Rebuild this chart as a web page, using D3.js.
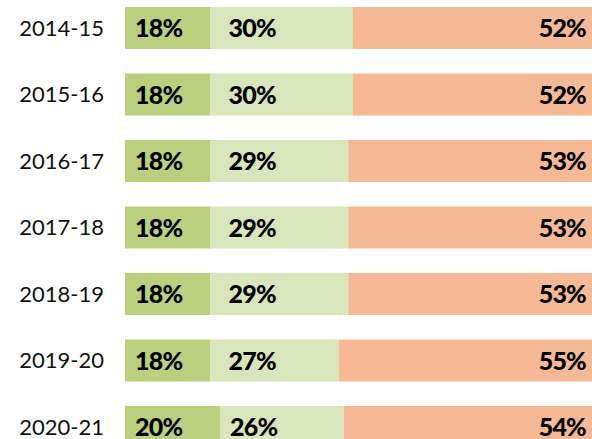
<!DOCTYPE html>
<html>
<head>
<meta charset="utf-8">
<script src="https://cdn.jsdelivr.net/npm/d3@7"></script>
<style>
  body { margin: 0; background: #fff; }
  svg { display: block; }
</style>
</head>
<body>
<div id="chart"></div>
<script>
const years = ["2014-15", "2015-16", "2016-17", "2017-18", "2018-19", "2019-20", "2020-21"];
const first = [18, 18, 18, 18, 18, 18, 20];
const second = [30, 30, 29, 29, 29, 27, 26];
const third = [52, 52, 53, 53, 53, 55, 54];
const colors = ["#bbd07e", "#d9e5bb", "#f5b996"];

const width = 592, height = 439;
// the bars run a little past the right edge of the picture
const margin = { top: 7, right: -8, bottom: 0, left: 125 };
const step = 66.5, barH = 42;

const data = years.map((y, i) => ({ year: y, a: first[i], b: second[i], c: third[i] }));

const svg = d3.select("#chart").append("svg")
  .attr("width", width)
  .attr("height", height);

const x = d3.scaleLinear()
  .domain([0, 100])
  .range([margin.left, width - margin.right]);

// rows: last bar runs past the bottom edge, like the reference
const y = d3.scaleBand()
  .domain(years)
  .range([margin.top, margin.top + step * (years.length - 1) + barH])
  .paddingInner((step - barH) / step)
  .paddingOuter(0);

const stack = d3.stack().keys(["a", "b", "c"]);
const series = stack(data);

const rows = svg.selectAll(".layer")
  .data(series)
  .join("g")
  .attr("class", "layer")
  .attr("fill", (d, i) => colors[i]);

rows.selectAll("rect")
  .data(d => d)
  .join("rect")
  .attr("x", d => x(d[0]))
  .attr("y", d => y(d.data.year))
  .attr("width", d => x(d[1]) - x(d[0]))
  .attr("height", y.bandwidth());

// year labels
svg.selectAll(".year")
  .data(data)
  .join("text")
  .attr("class", "year")
  .attr("x", margin.left - 21)
  .attr("y", d => y(d.year) + y.bandwidth() / 2)
  .attr("dy", "0.36em")
  .attr("text-anchor", "end")
  .style("font-family", "Lato, sans-serif")
  .style("font-size", "22px")
  .style("fill", "#111")
  .text(d => d.year);

const valStyle = sel => sel
  .style("font-family", "Lato, sans-serif")
  .style("font-weight", "900")
  .style("font-size", "25px")
  .style("letter-spacing", "-0.8px")
  .style("fill", "#000");

// first segment labels
svg.selectAll(".lbl-a")
  .data(series[0])
  .join("text")
  .attr("class", "lbl-a")
  .attr("x", d => x(d[0]) + 10)
  .attr("y", d => y(d.data.year) + y.bandwidth() / 2)
  .attr("dy", "0.36em")
  .call(valStyle)
  .text(d => d.data.a + "%");

// second segment labels
svg.selectAll(".lbl-b")
  .data(series[1])
  .join("text")
  .attr("class", "lbl-b")
  .attr("x", d => Math.max(x(d[0]) + 10, x(21.8)))
  .attr("y", d => y(d.data.year) + y.bandwidth() / 2)
  .attr("dy", "0.36em")
  .call(valStyle)
  .text(d => d.data.b + "%");

// third segment labels
svg.selectAll(".lbl-c")
  .data(series[2])
  .join("text")
  .attr("class", "lbl-c")
  .attr("x", d => x(d[1]) - 14)
  .attr("y", d => y(d.data.year) + y.bandwidth() / 2)
  .attr("dy", "0.36em")
  .attr("text-anchor", "end")
  .call(valStyle)
  .text(d => d.data.c + "%");
</script>
</body>
</html>
